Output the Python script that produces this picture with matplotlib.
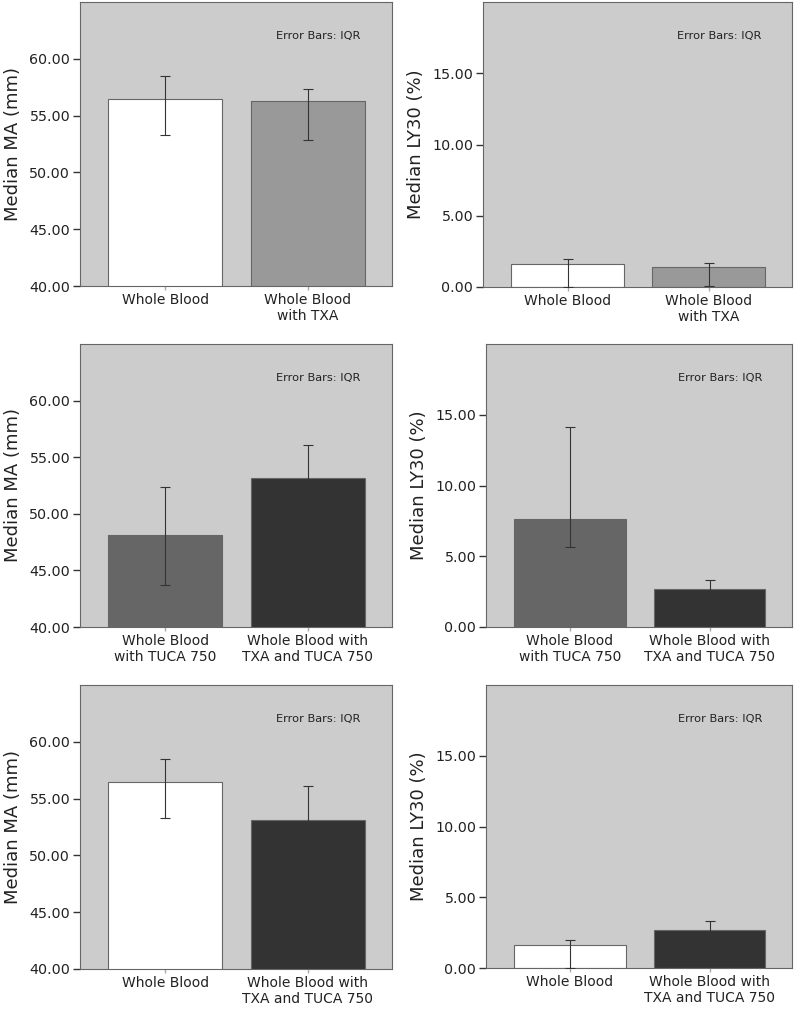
import numpy as np
import matplotlib
matplotlib.use("Agg")
import matplotlib.pyplot as plt

# groups shown in each row: (left group, right group)
group_names = {
    "WB": "Whole Blood",
    "TXA": "Whole Blood\nwith TXA",
    "TUCA": "Whole Blood\nwith TUCA 750",
    "TXA_TUCA": "Whole Blood with\nTXA and TUCA 750",
}
group_colors = {
    "WB": "#ffffff",
    "TXA": "#999999",
    "TUCA": "#666666",
    "TXA_TUCA": "#333333",
}

# median MA (mm) with IQR
ma_median = {"WB": 56.45, "TXA": 56.25, "TUCA": 48.15, "TXA_TUCA": 53.15}
ma_q1 = {"WB": 53.3, "TXA": 52.85, "TUCA": 43.75, "TXA_TUCA": 47.95}
ma_q3 = {"WB": 58.5, "TXA": 57.35, "TUCA": 52.4, "TXA_TUCA": 56.1}

# median LY30 (%) with IQR
ly_median = {"WB": 1.6, "TXA": 1.4, "TUCA": 7.65, "TXA_TUCA": 2.7}
ly_q1 = {"WB": 0.0, "TXA": 0.1, "TUCA": 5.65, "TXA_TUCA": 1.8}
ly_q3 = {"WB": 2.0, "TXA": 1.7, "TUCA": 14.15, "TXA_TUCA": 3.3}

rows = [("WB", "TXA"), ("TUCA", "TXA_TUCA"), ("WB", "TXA_TUCA")]

ma_ticks = [40, 45, 50, 55, 60]
ly_ticks = [0, 5, 10, 15]

W, H = 800, 1009
# pixel boxes (left, top, right, bottom)
left_boxes = [(80, 2, 392, 286), (80, 344, 392, 627), (80, 685, 392, 969)]
right_boxes = [(483, 2, 792, 287), (486, 344, 792, 627), (486, 685, 792, 968)]

BG = "#cccccc"
EDGE = "#666666"


def box_to_rect(box):
    l, t, r, b = box
    return [l / W, 1 - b / H, (r - l) / W, (b - t) / H]


def draw_panel(fig, box, groups, med, q1, q3, ylim, ticks, ylabel):
    ax = fig.add_axes(box_to_rect(box))
    ax.set_facecolor(BG)
    x = np.arange(len(groups))
    vals = np.array([med[g] for g in groups])
    lo = vals - np.array([q1[g] for g in groups])
    hi = np.array([q3[g] for g in groups]) - vals
    ax.bar(x, vals, width=0.8, color=[group_colors[g] for g in groups],
           edgecolor=EDGE, linewidth=0.8, zorder=2)
    ax.errorbar(x, vals, yerr=[lo, hi], fmt="none", ecolor="#333333",
                elinewidth=0.8, capsize=3.8, capthick=0.8, zorder=3)
    ax.set_xlim(-0.6, 1.59)
    ax.set_ylim(*ylim)
    ax.set_yticks(ticks)
    ax.set_yticklabels(["%.2f" % t for t in ticks], fontsize=10.3, color="#222222")
    ax.set_xticks(x)
    ax.set_xticklabels([group_names[g] for g in groups], fontsize=10,
                       color="#222222", linespacing=1.15)
    ax.tick_params(axis="y", length=5, width=1, color="#333333", pad=2)
    ax.tick_params(axis="x", length=3, width=1, color="#aaaaaa", pad=2)
    ax.set_ylabel(ylabel, fontsize=13, color="#222222", labelpad=5)
    for s in ax.spines.values():
        s.set_color(EDGE)
        s.set_linewidth(0.8)
    ax.text(0.765, 0.88, "Error Bars: IQR", transform=ax.transAxes,
            ha="center", va="center", fontsize=8.2, color="#222222")
    return ax


fig = plt.figure(figsize=(8, 10.09), dpi=100)
for i, (ga, gb) in enumerate(rows):
    draw_panel(fig, left_boxes[i], [ga, gb], ma_median, ma_q1, ma_q3,
               (40, 65), ma_ticks, "Median MA (mm)")
    draw_panel(fig, right_boxes[i], [ga, gb], ly_median, ly_q1, ly_q3,
               (0, 20), ly_ticks, "Median LY30 (%)")

fig.savefig("out.png", dpi=100, facecolor="white")
